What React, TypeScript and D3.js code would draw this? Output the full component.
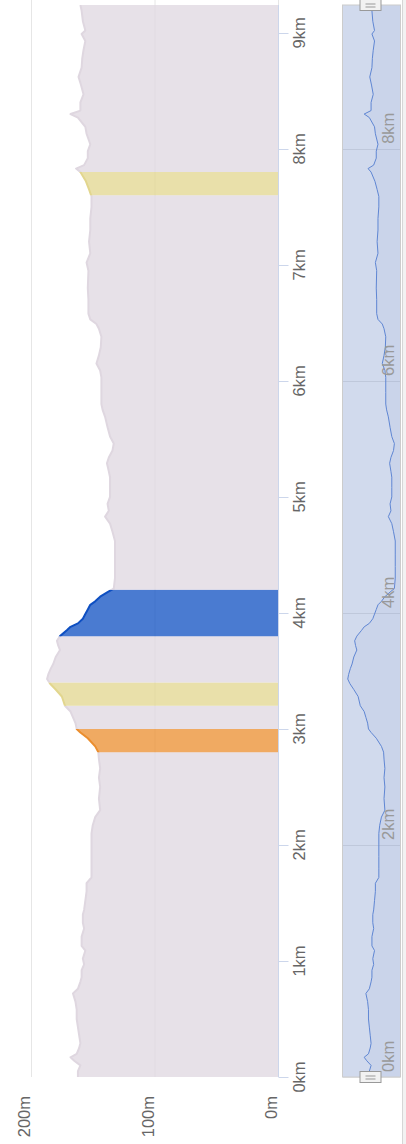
import React, { useEffect, useRef } from 'react';
import * as d3 from 'd3';

// elevation profile (km along route, metres)
const distanceKm = [
  0.0, 0.05, 0.1, 0.14, 0.17, 0.2, 0.25, 0.29, 0.36, 0.43, 0.5, 0.58, 0.65, 0.72, 0.76,
  0.82, 0.86, 0.92, 0.97, 1.02, 1.09, 1.13, 1.21, 1.28, 1.33, 1.4, 1.44, 1.52, 1.6, 1.67,
  1.72, 1.8, 1.9, 2.0, 2.1, 2.17, 2.24, 2.3, 2.4, 2.5, 2.58, 2.66, 2.74, 2.8, 2.85,
  2.92, 2.97, 3.0, 3.05, 3.1, 3.15, 3.2, 3.28, 3.34, 3.39, 3.43, 3.47, 3.52, 3.56, 3.62,
  3.68, 3.72, 3.76, 3.8, 3.85, 3.88, 3.91, 3.95, 3.99, 4.03, 4.07, 4.1, 4.14, 4.18, 4.21,
  4.3, 4.4, 4.5, 4.62, 4.7, 4.77, 4.83, 4.88, 4.94, 5.0, 5.08, 5.17, 5.22, 5.29, 5.34,
  5.4, 5.46, 5.52, 5.6, 5.69, 5.75, 5.8, 5.9, 6.03, 6.09, 6.15, 6.22, 6.29, 6.38, 6.45,
  6.49, 6.53, 6.58, 6.7, 6.8, 6.95, 7.02, 7.1, 7.2, 7.3, 7.4, 7.5, 7.59, 7.65, 7.72,
  7.8, 7.83, 7.86, 7.92, 7.98, 8.04, 8.13, 8.19, 8.27, 8.3, 8.33, 8.4, 8.47, 8.55, 8.62,
  8.7, 8.78, 8.85, 8.93, 8.99, 9.02, 9.1, 9.19, 9.24,
];
const elevationM = [
  162, 162, 160, 165, 168, 163, 161, 160, 161, 162, 163, 163, 164, 166, 162,
  160, 159, 159, 157, 158, 156, 159, 159, 157, 158, 158, 157, 156, 155, 155,
  151, 151, 151, 151, 151, 150, 148, 144, 145, 144, 145, 144, 145, 145.5, 148,
  154, 160, 163, 164, 166, 168, 172.5, 175, 180, 184.5, 187, 186, 184, 182, 180,
  176.5, 178, 179, 176.5, 171, 168, 162, 158, 156, 154, 152, 148, 144, 138, 133,
  132, 132, 132, 132, 134, 136, 140, 137, 138, 136, 136, 136, 137, 138.5, 137,
  134, 133, 136, 138, 140, 142, 143, 143, 143, 144, 147, 145, 143.5, 143, 145,
  147, 152, 153.5, 153.5, 154, 153.5, 155, 152, 153, 152, 152, 151, 151, 153, 155.5,
  160, 163.5, 157, 154, 154, 152, 155, 156, 162, 168, 160, 160, 157.5, 159.5, 161.5,
  159, 158.5, 157.5, 156, 159, 156, 158, 159, 160,
];

// colour zones along the distance axis (zone ends at the given km)
const zoneEnds = [2.8, 3.0, 3.2, 3.4, 3.8, 4.2, 7.6, 7.8, 9.24];
const zoneColors = [
  '#dfd7e0', '#eb8e2e', '#dfd7e0', '#e2d68e', '#dfd7e0',
  '#0e4fc2', '#dfd7e0', '#e2d68e', '#dfd7e0',
];

const distanceTicks = [0, 1, 2, 3, 4, 5, 6, 7, 8, 9];
const elevationTicks = [0, 100, 200];
const navigatorTicks = [0, 2, 4, 6, 8];

interface ProfilePoint {
  km: number;
  m: number;
}

const FONT = '"Liberation Sans", Arial, Helvetica, sans-serif';

const ElevationProfile: React.FC = () => {
  const chartRef = useRef<SVGSVGElement | null>(null);

  useEffect(() => {
    const data: ProfilePoint[] = distanceKm.map((km, i) => ({ km, m: elevationM[i] }));
    const maxKm = d3.max(distanceKm) as number;

    const width = 406;
    const height = 1144;

    d3.select(chartRef.current).selectAll('*').remove();
    const svg = d3
      .select(chartRef.current)
      .attr('width', width)
      .attr('height', height);

    // chart is laid out sideways: distance runs bottom -> top, elevation right -> left
    const y = d3.scaleLinear().domain([0, maxKm]).range([1077, 5]);
    const x = d3.scaleLinear().domain([0, 200]).range([278, 31]);

    // grid lines for elevation
    svg
      .append('g')
      .selectAll('line')
      .data(elevationTicks)
      .join('line')
      .attr('x1', (d) => x(d) + 0.5)
      .attr('x2', (d) => x(d) + 0.5)
      .attr('y1', 0)
      .attr('y2', y(0))
      .attr('stroke', '#e6e6e6')
      .attr('stroke-width', 1);

    const area = d3
      .area<ProfilePoint>()
      .y((d) => y(d.km))
      .x0(x(0))
      .x1((d) => x(d.m));

    const line = d3
      .line<ProfilePoint>()
      .y((d) => y(d.km))
      .x((d) => x(d.m));

    const defs = svg.append('defs');
    const series = svg.append('g');

    zoneEnds.forEach((end, i) => {
      const start = i === 0 ? 0 : zoneEnds[i - 1];
      const id = `zone-${i}`;
      defs
        .append('clipPath')
        .attr('id', id)
        .append('rect')
        .attr('x', 0)
        .attr('width', 290)
        .attr('y', y(end))
        .attr('height', y(start) - y(end));

      const g = series.append('g').attr('clip-path', `url(#${id})`);
      g.append('path')
        .datum(data)
        .attr('d', area)
        .attr('fill', zoneColors[i])
        .attr('fill-opacity', 0.75);
      g.append('path')
        .datum(data)
        .attr('d', line)
        .attr('fill', 'none')
        .attr('stroke', zoneColors[i])
        .attr('stroke-width', 2)
        .attr('stroke-linejoin', 'round');
    });

    // distance axis
    svg
      .append('line')
      .attr('x1', x(0) + 0.5)
      .attr('x2', x(0) + 0.5)
      .attr('y1', y(maxKm))
      .attr('y2', y(0))
      .attr('stroke', '#ccd6eb');

    const xTicks = svg.append('g').selectAll('g').data(distanceTicks).join('g');
    xTicks
      .append('line')
      .attr('x1', x(0) + 0.5)
      .attr('x2', x(0) + 10.5)
      .attr('y1', (d) => Math.round(y(d)) + 0.5)
      .attr('y2', (d) => Math.round(y(d)) + 0.5)
      .attr('stroke', '#ccd6eb');
    xTicks
      .append('text')
      .attr('transform', (d) => `translate(305,${y(d)}) rotate(-90)`)
      .attr('text-anchor', 'middle')
      .attr('fill', '#666666')
      .style('font-family', FONT)
      .style('font-size', '16.5px')
      .text((d) => `${d}km`);

    // elevation labels
    svg
      .append('g')
      .selectAll('text')
      .data(elevationTicks)
      .join('text')
      .attr('transform', (d) => `translate(${x(d) - 1},1096) rotate(-90)`)
      .attr('text-anchor', 'end')
      .attr('fill', '#666666')
      .style('font-family', FONT)
      .style('font-size', '16.5px')
      .text((d) => `${d}m`);

    // navigator
    const navLeft = 343;
    const navRight = 400;
    const navX = d3
      .scaleLinear()
      .domain([
        (d3.min(elevationM) as number) - 5.5,
        (d3.max(elevationM) as number) + 5.5,
      ])
      .range([navRight, navLeft]);

    const nav = svg.append('g');
    nav
      .selectAll('line')
      .data(navigatorTicks)
      .join('line')
      .attr('x1', navLeft)
      .attr('x2', navRight)
      .attr('y1', (d) => Math.round(y(d)) + 0.5)
      .attr('y2', (d) => Math.round(y(d)) + 0.5)
      .attr('stroke', '#e6e6e6');

    nav
      .append('path')
      .datum(data)
      .attr(
        'd',
        d3
          .area<ProfilePoint>()
          .y((d) => y(d.km))
          .x0(navRight)
          .x1((d) => navX(d.m))
      )
      .attr('fill', '#335cad')
      .attr('fill-opacity', 0.05);

    nav
      .append('rect')
      .attr('x', navLeft)
      .attr('width', navRight - navLeft)
      .attr('y', y(maxKm))
      .attr('height', y(0) - y(maxKm))
      .attr('fill', 'rgba(102,133,194,0.3)');

    nav
      .append('path')
      .datum(data)
      .attr(
        'd',
        d3
          .line<ProfilePoint>()
          .y((d) => y(d.km))
          .x((d) => navX(d.m))
      )
      .attr('fill', 'none')
      .attr('stroke', '#5f86d3')
      .attr('stroke-width', 1);

    nav
      .selectAll('text')
      .data(navigatorTicks)
      .join('text')
      .attr('transform', (d) => `translate(394,${y(d) - 5}) rotate(-90)`)
      .attr('text-anchor', 'start')
      .attr('fill', '#999999')
      .style('font-family', FONT)
      .style('font-size', '16.5px')
      .text((d) => `${d}km`);

    nav
      .append('rect')
      .attr('x', navLeft - 0.5)
      .attr('width', navRight - navLeft + 1)
      .attr('y', y(maxKm))
      .attr('height', y(0) - y(maxKm))
      .attr('fill', 'none')
      .attr('stroke', '#cccccc');

    // navigator handles
    const handleX = (navLeft + navRight) / 2 - 1;
    const handles = nav.append('g').selectAll('g').data([0, maxKm]).join('g')
      .attr('transform', (d) => `translate(${handleX},${Math.round(y(d))})`);
    handles
      .append('rect')
      .attr('x', -10.5)
      .attr('y', -5.5)
      .attr('width', 21)
      .attr('height', 11)
      .attr('fill', '#f2f2f2')
      .attr('stroke', '#999999');
    handles
      .selectAll('line')
      .data([-1.5, 1.5])
      .join('line')
      .attr('x1', -5)
      .attr('x2', 5)
      .attr('y1', (d) => d + 0.5)
      .attr('y2', (d) => d + 0.5)
      .attr('stroke', '#999999');

    // scrollbar edge at the far right
    svg
      .append('rect')
      .attr('x', 402.5)
      .attr('y', -1)
      .attr('width', 8)
      .attr('height', height + 2)
      .attr('fill', '#f2f2f2')
      .attr('stroke', '#d6d6d6');
  }, []);

  return (
    <svg
      ref={chartRef}
      style={{ position: 'absolute', left: 0, top: 0, background: '#ffffff' }}
    ></svg>
  );
};

export default function App() {
  return <ElevationProfile />;
}
